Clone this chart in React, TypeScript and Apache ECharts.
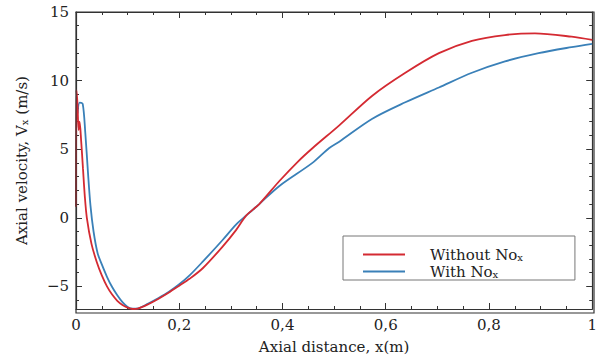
import React, { useEffect, useRef } from "react";
import * as echarts from "echarts";

const withoutNoxX = [0, 0.001, 0.003, 0.005, 0.007, 0.01, 0.0135, 0.017, 0.021, 0.03, 0.04, 0.05, 0.06, 0.07, 0.08, 0.09, 0.1, 0.11, 0.12, 0.14, 0.16, 0.18, 0.2, 0.22, 0.246, 0.284, 0.31, 0.33, 0.355, 0.394, 0.43, 0.458, 0.51, 0.574, 0.638, 0.703, 0.767, 0.831, 0.889, 0.96, 1.0];
const withoutNoxV = [0.8, 9.3, 8.2, 6.4, 7.0, 5.6, 3.6, 1.6, 0, -1.9, -3.2, -4.2, -5.0, -5.6, -6.05, -6.35, -6.55, -6.65, -6.62, -6.3, -5.9, -5.45, -4.95, -4.45, -3.66, -2.1, -0.9, 0.17, 1.0, 2.68, 4.1, 5.07, 6.74, 8.9, 10.57, 12.0, 12.9, 13.32, 13.44, 13.2, 12.96];

const withNoxX = [0.003, 0.007, 0.013, 0.018, 0.023, 0.028, 0.034, 0.042, 0.05, 0.06, 0.07, 0.08, 0.09, 0.1, 0.11, 0.12, 0.14, 0.16, 0.18, 0.2, 0.22, 0.246, 0.284, 0.31, 0.33, 0.355, 0.394, 0.458, 0.49, 0.51, 0.574, 0.638, 0.703, 0.767, 0.831, 0.896, 0.96, 1.0];
const withNoxV = [7.6, 8.4, 8.3, 6.2, 3.4, 0.9, -1.0, -2.6, -3.4, -4.3, -5.05, -5.65, -6.15, -6.5, -6.62, -6.6, -6.25, -5.85, -5.4, -4.85, -4.2, -3.18, -1.62, -0.5, 0.17, 1.0, 2.32, 4.0, 5.07, 5.55, 7.22, 8.42, 9.5, 10.57, 11.4, 12.0, 12.44, 12.68];

const xTicks = [0, 0.2, 0.4, 0.6, 0.8, 1];
const seriesNames = ["Without No{sub|x}", "With No{sub|x}"];
const seriesColors = ["#d42a32", "#3a80b8"];

const FONT = "DejaVu Serif";
const GRID = { left: 76, right: 6, top: 12, bottom: 46 };

export default function App() {
  const ref = useRef<HTMLDivElement>(null);
  useEffect(() => {
    if (!ref.current) return;
    const chart = echarts.init(ref.current, undefined, { renderer: "svg" });
    const zip = (xs: number[], ys: number[]) => xs.map((x, i) => [x, ys[i]]);
    const mkLine = () => ({ show: true, onZero: false, lineStyle: { color: "#333", width: 1.2 } });
    const mkTick = () => ({ show: true, inside: true, length: 6, lineStyle: { color: "#333", width: 1 } });
    const mkMinor = (n: number) => ({ show: true, splitNumber: n, length: 3, lineStyle: { color: "#333", width: 1 } });
    const fmtX = (v: number) => {
      const r = Math.round(v * 10) / 10;
      if (!xTicks.some((t) => Math.abs(t - r) < 1e-9)) return "";
      return String(r).replace(".", ",");
    };
    const fmtY = (v: number) => (Math.abs(v / 5 - Math.round(v / 5)) < 1e-6 ? String(v).replace("-", "\u2212") : "");
    const W = 600, H = 359;
    chart.setOption({
      animation: false,
      grid: { ...GRID, containLabel: false },
      graphic: [
        {
          type: "rect", z: 100, silent: true,
          shape: { x: GRID.left, y: GRID.top, width: W - GRID.left - GRID.right, height: H - GRID.top - GRID.bottom },
          style: { fill: "none", stroke: "#333", lineWidth: 1.2 },
        },
      ],
      xAxis: [
        {
          type: "value", min: 0, max: 1, interval: 0.2, position: "bottom",
          axisLine: mkLine(), axisTick: mkTick(), minorTick: mkMinor(4),
          splitLine: { show: false },
          axisLabel: { formatter: fmtX, fontFamily: FONT, fontSize: 15, color: "#222", margin: 8 },
          name: "Axial distance, x(m)", nameLocation: "middle", nameGap: 30,
          nameTextStyle: { fontFamily: FONT, fontSize: 15, color: "#222" },
        },
        {
          type: "value", min: 0, max: 1, interval: 0.2, position: "top",
          axisLine: mkLine(), axisTick: mkTick(), minorTick: mkMinor(4),
          splitLine: { show: false }, axisLabel: { show: false },
        },
      ],
      yAxis: [
        {
          type: "value", min: -6.65, max: 15, position: "left",
          axisLine: mkLine(), axisTick: mkTick(), minorTick: mkMinor(5),
          splitLine: { show: false },
          axisLabel: { formatter: fmtY, fontFamily: FONT, fontSize: 15, color: "#222", margin: 7, showMinLabel: false },
          name: "Axial velocity, V{sub|x} (m/s)", nameLocation: "middle", nameGap: 47, nameRotate: 90,
          nameTextStyle: {
            fontFamily: FONT, fontSize: 15, color: "#222",
            rich: { sub: { fontFamily: FONT, fontSize: 10, verticalAlign: "bottom", lineHeight: 14 } },
          },
        },
        {
          type: "value", min: -6.65, max: 15, position: "right",
          axisLine: mkLine(), axisTick: mkTick(), minorTick: mkMinor(5),
          splitLine: { show: false }, axisLabel: { show: false },
        },
      ],
      legend: {
        orient: "vertical", left: 343, top: 236,
        padding: [11, 52, 1, 20], itemGap: 2,
        itemWidth: 42, itemHeight: 2, icon: "rect",
        borderColor: "#777", borderWidth: 1, backgroundColor: "#fff",
        data: seriesNames,
        textStyle: {
          fontFamily: FONT, fontSize: 15, color: "#222", padding: [0, 0, 0, 20],
          rich: { sub: { fontFamily: FONT, fontSize: 10, verticalAlign: "bottom", lineHeight: 14 } },
        },
      },
      series: [
        {
          name: seriesNames[0], type: "line", data: zip(withoutNoxX, withoutNoxV),
          xAxisIndex: 0, yAxisIndex: 0,
          symbol: "none", smooth: 0.3,
          lineStyle: { color: seriesColors[0], width: 1.8 }, itemStyle: { color: seriesColors[0] }, z: 3,
        },
        {
          name: seriesNames[1], type: "line", data: zip(withNoxX, withNoxV),
          xAxisIndex: 1, yAxisIndex: 1,
          symbol: "none", smooth: 0.3,
          lineStyle: { color: seriesColors[1], width: 1.8 }, itemStyle: { color: seriesColors[1] }, z: 2,
        },
      ],
    });
    return () => chart.dispose();
  }, []);
  return <div ref={ref} style={{ width: 600, height: 359, position: "absolute", left: 0, top: 0 }} />;
}
